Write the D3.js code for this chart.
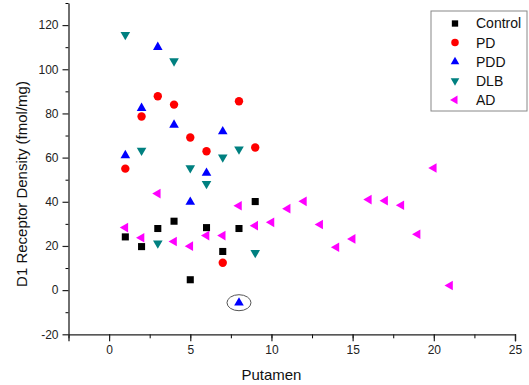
<!DOCTYPE html>
<html>
<head>
<meta charset="utf-8">
<script src="https://cdn.jsdelivr.net/npm/d3@7"></script>
<style>
  body { margin: 0; background: #fff; }
  text { font-family: "Liberation Sans", Arial, sans-serif; }
</style>
</head>
<body>
<script>
// D1 receptor density vs putamen - scatter by group

// Data
let controlX = [1, 2, 3, 4, 5, 6, 7, 8, 9];
let controlY = [24.1, 19.7, 27.9, 31.2, 4.7, 28.3, 17.5, 27.9, 40.1];

let pdX = [1, 2, 3, 4, 5, 6, 7, 8, 9];
let pdY = [55, 78.6, 87.8, 84, 69.1, 62.9, 12.4, 85.5, 64.6];

let pddX = [1, 2, 3, 4, 5, 6, 7, 8];
let pddY = [61, 82.4, 110, 74.8, 39.9, 53, 71.8, -5.7];

let dlbX = [1, 2, 3, 4, 5, 6, 7, 8, 9];
let dlbY = [115.6, 63.2, 21.2, 103.7, 55.3, 48.2, 60.2, 63.8, 16.9];

let adX = [1, 2, 3, 4, 5, 6, 7, 8, 9, 10, 11, 12, 13, 14, 15, 16, 17, 18, 19, 20, 21];
let adY = [28.3, 23.7, 43.7, 22, 19.9, 24.7, 24.7, 38.2, 29.2, 30.7, 36.9, 40.2, 29.7,
           19.4, 23.2, 41, 40.5, 38.4, 25.3, 55.3, 2.1];

let groupNames = ["Control", "PD", "PDD", "DLB", "AD"];
let xTicks = [0, 5, 10, 15, 20, 25];
let yTicks = [-20, 0, 20, 40, 60, 80, 100, 120];

// the circled outlier (PDD, x = 8)
let circledX = 8, circledY = -5.7;

let groups = [
  {name: groupNames[0], xs: controlX, ys: controlY, color: "#000000", shape: d3.symbolSquare, rot: 0, size: 50},
  {name: groupNames[1], xs: pdX, ys: pdY, color: "#ff0000", shape: d3.symbolCircle, rot: 0, size: 55},
  {name: groupNames[2], xs: pddX, ys: pddY, color: "#0000ff", shape: d3.symbolTriangle, rot: 0, size: 40},
  {name: groupNames[3], xs: dlbX, ys: dlbY, color: "#008080", shape: d3.symbolTriangle, rot: 180, size: 40},
  {name: groupNames[4], xs: adX, ys: adY, color: "#ff00ff", shape: d3.symbolTriangle, rot: -90, size: 40}
];

let margin = null, width = null, height = null;
let svg = null;
let x, y = null;

setupCanvasSize();
appendSvg("body");
setupXScale();
setupYScale();
appendXAxis();
appendYAxis();
appendPoints();
appendLegend();

function setupCanvasSize() {
  margin = {top: 3, left: 68.5, bottom: 50, right: 14};
  width = 529 - margin.left - margin.right;
  height = 385 - margin.top - margin.bottom;
}

function appendSvg(domElement) {
  svg = d3.select(domElement).append("svg")
    .attr("width", 529)
    .attr("height", 385)
    .append("g")
    .attr("transform", "translate(" + margin.left + "," + margin.top + ")");
}

function setupXScale() {
  x = d3.scaleLinear().domain([-2.5, 25]).range([0, width]);
}

function setupYScale() {
  // -20 sits at the bottom axis line, 130 at the top end of the y axis
  y = d3.scaleLinear().domain([-20, 130]).range([height - 0.7, 0]);
}

// plain hyphen for negatives, like the original
function plainNum(d) { return String(d); }

function appendXAxis() {
  let g = svg.append("g")
    .attr("transform", "translate(0," + y(-20) + ")");

  // minor ticks
  g.append("g")
    .call(d3.axisBottom(x).tickValues(d3.range(-2.5, 25.1, 2.5)).tickSize(4).tickFormat(""))
    .call(s => s.select(".domain").remove());

  g.append("g")
    .call(d3.axisBottom(x).tickValues(xTicks).tickSize(7).tickPadding(4).tickFormat(plainNum))
    .call(styleAxis);

  svg.append("text")
    .attr("x", x(10))
    .attr("y", 377)
    .attr("text-anchor", "middle")
    .style("font-size", "15px")
    .style("fill", "#111")
    .text("Putamen");
}

function appendYAxis() {
  svg.append("g")
    .call(d3.axisLeft(y).tickValues(d3.range(-10, 131, 20)).tickSize(3).tickFormat(""))
    .call(s => s.select(".domain").remove());

  svg.append("g")
    .call(d3.axisLeft(y).tickValues(yTicks).tickSize(6).tickPadding(4).tickSizeOuter(0).tickFormat(plainNum))
    .call(styleAxis);

  svg.append("text")
    .attr("transform", "translate(" + (27 - margin.left) + "," + (184 - margin.top) + ") rotate(-90)")
    .attr("text-anchor", "middle")
    .style("font-size", "15px")
    .style("fill", "#111")
    .text("D1 Receptor Density (fmol/mg)");
}

function styleAxis(s) {
  s.select(".domain").attr("stroke", "#222").attr("stroke-width", 1.3);
  s.selectAll(".tick line").attr("stroke", "#222").attr("stroke-width", 1.2);
  s.selectAll(".tick text")
    .style("font-size", "12px")
    .style("font-family", "'Liberation Sans', Arial, sans-serif")
    .style("fill", "#222");
}

function symbolPath(grp) {
  return d3.symbol().type(grp.shape).size(grp.size)();
}

function appendPoints() {
  groups.forEach(function(grp) {
    let pts = grp.xs.map(function(d, i) { return {x: d, y: grp.ys[i]}; });
    svg.append("g").selectAll("path")
      .data(pts)
      .enter().append("path")
      .attr("d", symbolPath(grp))
      .attr("transform", function(d) {
        return "translate(" + x(d.x) + "," + y(d.y) + ") rotate(" + grp.rot + ")";
      })
      .style("fill", grp.color);
  });

  // ellipse around the outlier
  svg.append("ellipse")
    .attr("cx", x(circledX))
    .attr("cy", y(circledY))
    .attr("rx", 12)
    .attr("ry", 8)
    .style("fill", "none")
    .style("stroke", "#555")
    .style("stroke-width", 1);
}

function appendLegend() {
  let lg = svg.append("g")
    .attr("transform", "translate(" + (431 - margin.left) + "," + (11 - margin.top) + ")");

  lg.append("rect")
    .attr("width", 96)
    .attr("height", 100)
    .style("fill", "#fff")
    .style("stroke", "#888")
    .style("stroke-width", 1);

  let items = lg.selectAll(".legend")
    .data(groups)
    .enter().append("g")
    .attr("class", "legend")
    .attr("transform", function(d, i) { return "translate(0," + (12.5 + i * 19.1) + ")"; });

  items.append("path")
    .attr("d", function(d) { return d3.symbol().type(d.shape).size(d.size * 0.8)(); })
    .attr("transform", function(d) { return "translate(24,0) rotate(" + d.rot + ")"; })
    .style("fill", function(d) { return d.color; });

  items.append("text")
    .attr("x", 45)
    .attr("dy", "0.35em")
    .style("font-size", "14px")
    .style("fill", "#111")
    .text(function(d) { return d.name; });
}
</script>
</body>
</html>
